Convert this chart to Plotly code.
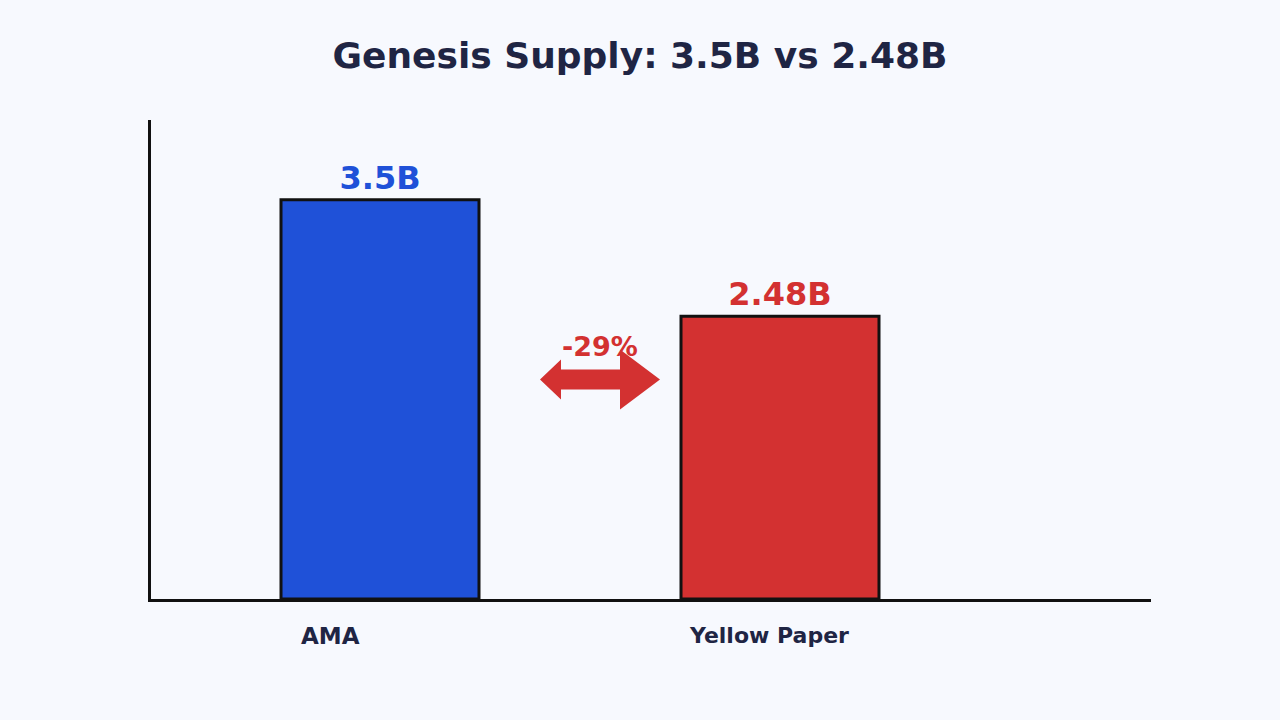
"""
Genesis supply comparison: AMA figure vs Yellow Paper figure.
"""

import plotly.graph_objects as go

# data
categories = ['AMA', 'Yellow Paper']
supply_b = [3.5, 2.48]
value_labels = ['3.5B', '2.48B']
change_label = '-29%'

BG = '#f7f9fe'
NAVY = '#1f2544'
BLUE = '#1f51d8'
RED = '#d33131'
EDGE = '#111111'
FONT = 'DejaVu Sans'

bar_colors = [BLUE, RED]
label_sizes = [23, 22]
label_shifts = [-50, -11]

fig = go.Figure()

fig.add_trace(go.Bar(
    x=categories, y=supply_b, width=0.495,
    marker=dict(color=bar_colors, line=dict(color=EDGE, width=3)),
    text=value_labels, textposition='outside', cliponaxis=False,
    textfont=dict(family=FONT, size=32, color=bar_colors, weight='bold'),
    hoverinfo='skip', showlegend=False,
))

# category labels sit a bit left of the bar centres
for cat, size, shift in zip(categories, label_sizes, label_shifts):
    fig.add_annotation(
        x=cat, y=0, xref='x', yref='y', yanchor='top', yshift=-22,
        xshift=shift, text=f'<b>{cat}</b>', showarrow=False,
        font=dict(family=FONT, size=size, color=NAVY),
    )

# double-headed arrow between the bars (pixel geometry around a centre point)
ax, ay = 0.55, 1.925          # centre in data units
px_x, px_y = 1 / 400, 4.2 / 480  # data units per pixel
pts = [(-60, 0), (-39, 20), (-39, 10), (20, 10), (20, 30), (60, 0),
       (20, -30), (20, -10), (-39, -10), (-39, -20)]
path = 'M ' + ' L '.join(f'{ax + dx * px_x:.4f},{ay + dy * px_y:.4f}' for dx, dy in pts) + ' Z'
fig.add_shape(type='path', path=path, xref='x', yref='y',
              fillcolor=RED, line=dict(width=0))

fig.add_annotation(
    x=ax, y=ay, xref='x', yref='y', yshift=33, text=f'<b>{change_label}</b>',
    showarrow=False, font=dict(family=FONT, size=27, color=RED),
)

fig.update_layout(
    width=1280, height=720,
    title=dict(text='<b>Genesis Supply: 3.5B vs 2.48B</b>', x=0.5, xanchor='center',
               y=0.923, yanchor='middle',
               font=dict(family=FONT, size=36, color=NAVY)),
    paper_bgcolor=BG, plot_bgcolor=BG,
    margin=dict(l=151, r=129, t=120, b=121),
    xaxis=dict(range=[-0.5725, 1.9275], showline=True, linecolor=EDGE, linewidth=3,
               showticklabels=False, ticks='', showgrid=False, zeroline=False),
    yaxis=dict(range=[0, 4.2], showline=True, linecolor=EDGE, linewidth=3,
               showticklabels=False, ticks='', showgrid=False, zeroline=False),
    font=dict(family=FONT),
)

# drop the default page margin so the figure fills the window
fig.write_html('out.html', config={'displayModeBar': False},
               post_script=f"document.body.style.margin='0';"
                           f"document.body.style.background='{BG}';")
